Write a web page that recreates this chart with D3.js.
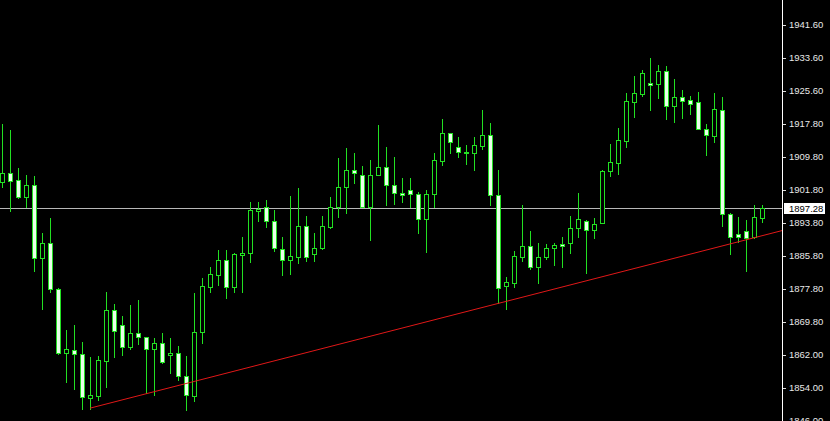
<!DOCTYPE html>
<html>
<head>
<meta charset="utf-8">
<script src="https://cdn.jsdelivr.net/npm/d3@7"></script>
<style>
  html, body { margin: 0; padding: 0; background: #000; }
  svg { display: block; }
</style>
</head>
<body>
<svg id="chart" width="830" height="421"></svg>
<script>
// ---- Data (XAUUSD-like candles) ----
const opens = [
  1903.68,1905.85,1904.16,1900.05,1902.95,1885.32,1888.94,1877.83,1862.37,1863.10,
  1862.13,1851.50,1851.99,1860.44,1872.76,1869.14,1863.82,1867.20,1866.24,1863.34,
  1864.79,1861.89,1862.37,1856.82,1851.99,1867.44,1878.32,1881.21,1884.84,1878.32,
  1886.04,1886.53,1896.67,1897.64,1894.26,1887.49,1884.84,1885.56,1893.05,1886.29,
  1887.74,1892.81,1897.64,1902.47,1906.58,1905.37,1897.64,1905.37,1907.30,1902.95,
  1901.02,1901.75,1900.78,1894.74,1900.78,1908.75,1915.51,1912.13,1910.92,1910.68,
  1912.37,1915.03,1900.54,1878.56,1879.28,1885.56,1888.22,1883.15,1885.56,1887.74,
  1888.70,1888.94,1892.57,1894.26,1892.08,1893.77,1906.33,1908.27,1913.58,1923.00,
  1924.93,1927.59,1927.35,1930.49,1922.04,1924.21,1923.49,1923.00,1916.48,1914.79,
  1921.07,1895.95,1891.12,1891.84,1890.39,1894.98
];
const highs = [
  1917.69,1916.24,1907.06,1905.37,1905.13,1891.36,1894.98,1878.07,1867.93,1869.14,
  1865.03,1861.41,1861.65,1877.11,1874.21,1871.31,1873.97,1875.18,1866.24,1866.00,
  1867.20,1866.00,1864.06,1861.65,1876.87,1880.49,1883.15,1887.25,1887.25,1886.53,
  1890.39,1898.85,1898.85,1899.33,1896.91,1890.39,1900.30,1902.23,1895.47,1891.36,
  1895.47,1900.05,1909.48,1911.89,1910.68,1907.54,1908.99,1917.45,1912.13,1909.72,
  1904.64,1904.64,1901.26,1901.75,1910.68,1918.90,1915.51,1914.55,1912.62,1914.55,
  1921.07,1917.93,1906.58,1880.73,1887.01,1898.12,1891.84,1888.94,1888.70,1888.94,
  1890.39,1895.47,1901.02,1894.50,1894.98,1906.58,1912.86,1916.72,1925.18,1929.28,
  1930.73,1933.63,1931.94,1931.70,1928.56,1925.90,1924.45,1925.42,1917.69,1925.18,
  1924.21,1896.19,1895.22,1894.50,1898.12,1898.12
];
const lows = [
  1902.47,1896.67,1899.81,1897.64,1882.18,1873.00,1877.11,1862.13,1855.37,1853.68,
  1848.85,1848.85,1851.02,1854.16,1861.41,1861.89,1863.34,1864.55,1852.71,1852.23,
  1859.96,1857.54,1855.85,1848.60,1850.78,1864.79,1877.11,1878.80,1875.66,1877.11,
  1877.11,1884.35,1894.26,1892.81,1887.01,1881.21,1881.46,1884.11,1884.60,1884.60,
  1887.50,1892.57,1895.22,1896.19,1903.44,1897.64,1889.67,1905.37,1898.12,1898.36,
  1898.85,1897.64,1891.36,1886.77,1897.64,1907.78,1910.68,1909.72,1908.03,1906.58,
  1911.65,1898.12,1874.45,1873.00,1878.32,1884.60,1882.66,1879.28,1885.08,1883.63,
  1883.15,1886.53,1890.39,1881.70,1890.15,1893.77,1905.13,1905.61,1912.13,1919.38,
  1924.45,1921.07,1923.97,1918.90,1918.17,1919.14,1920.10,1916.48,1910.20,1913.34,
  1893.05,1886.29,1889.19,1882.18,1890.15,1894.02
];
const closes = [
  1905.85,1903.92,1900.05,1902.95,1885.32,1888.94,1877.83,1862.37,1863.34,1862.13,
  1851.74,1852.23,1860.68,1872.76,1867.69,1863.82,1867.20,1866.24,1863.34,1864.79,
  1860.20,1862.37,1856.82,1852.23,1867.44,1878.56,1881.46,1884.84,1878.32,1886.29,
  1886.53,1896.91,1897.16,1894.26,1887.74,1884.84,1885.80,1893.05,1885.56,1887.74,
  1893.05,1897.64,1902.47,1906.58,1905.85,1897.64,1905.37,1907.30,1902.95,1901.02,
  1900.54,1900.78,1894.74,1900.78,1908.99,1915.51,1913.34,1910.92,1910.68,1912.62,
  1915.03,1900.54,1878.07,1879.52,1885.80,1888.22,1883.15,1885.56,1887.74,1888.46,
  1888.22,1892.57,1894.74,1892.08,1893.53,1906.33,1908.51,1913.82,1923.24,1925.18,
  1930.01,1927.11,1930.49,1922.04,1924.21,1923.24,1922.52,1916.48,1915.03,1921.31,
  1895.95,1890.39,1890.39,1890.15,1895.22,1897.28
];
const tickLabels = ["1941.60","1933.60","1925.60","1917.80","1909.80","1901.80",
  "1893.80","1885.80","1877.80","1869.80","1862.00","1854.00","1846.00"];
// Trend line anchors: [bar index, price]
const trendBars = [11, 95];
const trendPrices = [1849.05, 1890.70];
// Visible price window
const priceWindow = [1845.95, 1947.64];

// ---- Layout ----
const W = 830, H = 421;
const plotRight = 782;
const green = "#22e022";
const bearFill = "#eaffea";

const svg = d3.select("#chart");
svg.append("rect").attr("width", W).attr("height", H).attr("fill", "#000");

const n = closes.length;
const x = d3.scaleLinear().domain([0, n - 1]).range([2, 2 + 8 * (n - 1)]);
const y = d3.scaleLinear().domain(priceWindow).range([H, 0]);

const data = d3.range(n).map(i => ({i, o: opens[i], h: highs[i], l: lows[i], c: closes[i]}));

const plot = svg.append("g");
plot.append("clipPath").attr("id", "clip").append("rect")
  .attr("x", 0).attr("y", 0).attr("width", plotRight).attr("height", H);
const g = plot.append("g").attr("clip-path", "url(#clip)");

// current price line
const last = closes[n - 1];
g.append("line")
  .attr("x1", 0).attr("x2", plotRight)
  .attr("y1", Math.round(y(last)) + 0.5).attr("y2", Math.round(y(last)) + 0.5)
  .attr("stroke", "#b8b8b8").attr("stroke-width", 1);

// wicks
g.selectAll("line.wick").data(data).join("line")
  .attr("class", "wick")
  .attr("x1", d => Math.round(x(d.i)) + 0.5).attr("x2", d => Math.round(x(d.i)) + 0.5)
  .attr("y1", d => Math.round(y(d.h))).attr("y2", d => Math.round(y(d.l)) + 1)
  .attr("stroke", green).attr("stroke-width", 1);

// bodies
g.selectAll("rect.body").data(data).join("rect")
  .attr("class", "body")
  .attr("x", d => Math.round(x(d.i)) - 1.5)
  .attr("width", 4)
  .attr("y", d => Math.round(y(Math.max(d.o, d.c))) + 0.5)
  .attr("height", d => Math.max(0, Math.round(y(Math.min(d.o, d.c))) - Math.round(y(Math.max(d.o, d.c)))))
  .attr("fill", d => d.c < d.o ? bearFill : "#000")
  .attr("stroke", green).attr("stroke-width", 1);

// trend line (ray extended to the right edge)
const slope = (trendPrices[1] - trendPrices[0]) / (trendBars[1] - trendBars[0]);
const endBar = x.invert(plotRight);
g.append("line")
  .attr("x1", x(trendBars[0])).attr("y1", y(trendPrices[0]))
  .attr("x2", x(endBar)).attr("y2", y(trendPrices[0] + slope * (endBar - trendBars[0])))
  .attr("stroke", "#e01818").attr("stroke-width", 1);

// ---- Price axis ----
svg.append("line")
  .attr("x1", plotRight + 0.5).attr("x2", plotRight + 0.5)
  .attr("y1", 0).attr("y2", H)
  .attr("stroke", "#ffffff").attr("stroke-width", 1);

const axis = svg.append("g");
tickLabels.forEach(t => {
  const v = +t;
  const yy = Math.round(y(v));
  axis.append("line")
    .attr("x1", plotRight + 1).attr("x2", plotRight + 4)
    .attr("y1", yy + 0.5).attr("y2", yy + 0.5)
    .attr("stroke", "#ddd");
  axis.append("text")
    .attr("x", 789).attr("y", yy)
    .attr("dy", "0.36em")
    .attr("fill", "#e8e8e8")
    .attr("font-family", "'Liberation Sans', Arial, sans-serif")
    .attr("font-size", "9.5px")
    .text(t);
});

// current price label box
const ly = Math.round(y(last));
axis.append("rect")
  .attr("x", 784).attr("y", ly - 5).attr("width", 41).attr("height", 11)
  .attr("fill", "#ffffff");
axis.append("text")
  .attr("x", 789).attr("y", ly + 0.5).attr("dy", "0.36em")
  .attr("fill", "#000")
  .attr("font-family", "'Liberation Sans', Arial, sans-serif")
  .attr("font-size", "9.5px")
  .text(last.toFixed(2));
</script>
</body>
</html>
